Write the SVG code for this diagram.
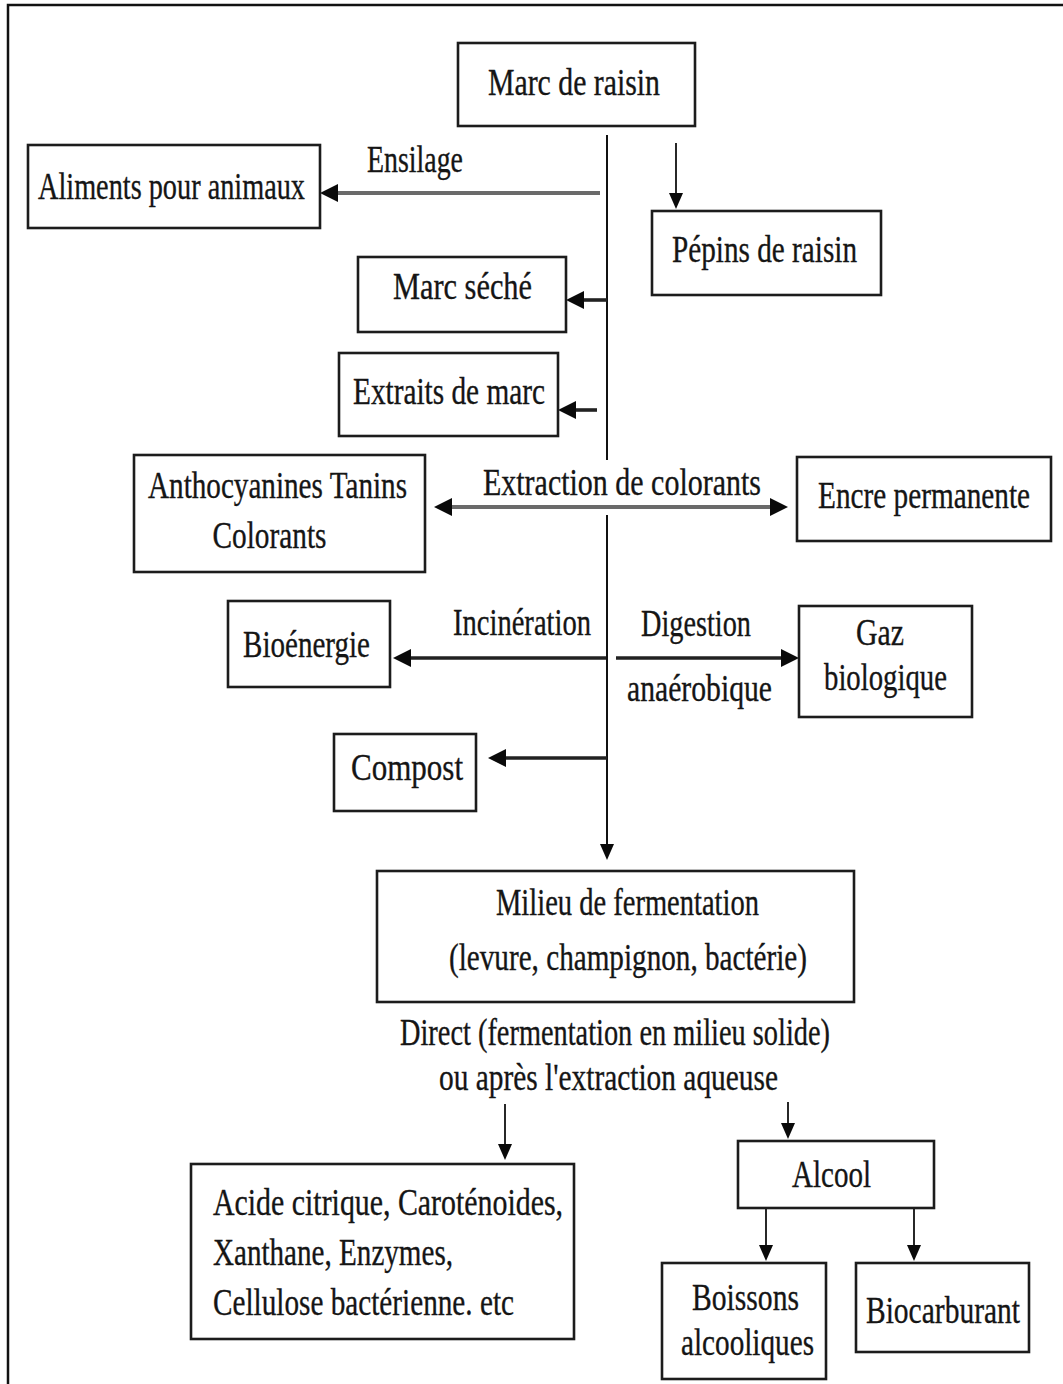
<svg xmlns="http://www.w3.org/2000/svg" width="1063" height="1384" viewBox="0 0 1063 1384">
  <style>
    .box { fill: #ffffff; stroke: #1c1c1c; stroke-width: 2.6; }
    .t { font-family: "Liberation Serif", "Times New Roman", serif; font-size: 38px; fill: #151515; stroke: #151515; stroke-width: 0.35; text-anchor: middle; }
    .tl { text-anchor: start; }
    .trunk { stroke: #111; stroke-width: 2; fill: none; }
    .thin { stroke: #111; stroke-width: 1.8; fill: none; }
    .thick { stroke: #222; stroke-width: 3.6; fill: none; }
    .grey { stroke: #6a6a6a; stroke-width: 4; fill: none; }
  </style>
  <defs>
    <marker id="headBig" markerUnits="userSpaceOnUse" markerWidth="20" markerHeight="20" refX="6" refY="10" orient="auto-start-reverse" viewBox="0 0 20 20">
      <path d="M0,1 L18,10 L0,19 Z" fill="#0a0a0a"/>
    </marker>
    <marker id="headSmall" markerUnits="userSpaceOnUse" markerWidth="18" markerHeight="16" refX="6" refY="8" orient="auto" viewBox="0 0 18 16">
      <path d="M0,1 L16,8 L0,15 Z" fill="#0a0a0a"/>
    </marker>
  </defs>

  <rect width="1063" height="1384" fill="#ffffff"/>
  <!-- outer frame, open to the right and bottom edges -->
  <rect x="8" y="5" width="1080" height="1420" fill="none" stroke="#111" stroke-width="2.5"/>

  <g id="connectors">
    <!-- main trunk, interrupted behind the colourant label -->
    <line class="trunk" x1="607" y1="135" x2="607" y2="460"/>
    <line class="trunk" x1="607" y1="515" x2="607" y2="850" marker-end="url(#headSmall)"/>
    <!-- seeds -->
    <line class="thin" x1="676" y1="143" x2="676" y2="199" marker-end="url(#headSmall)"/>
    <!-- silage -->
    <line class="grey" x1="600" y1="193" x2="332" y2="193" marker-end="url(#headBig)"/>
    <!-- dried pomace -->
    <line class="thick" x1="607" y1="300" x2="578" y2="300" marker-end="url(#headBig)"/>
    <!-- pomace extracts -->
    <line class="thick" x1="597" y1="410" x2="570" y2="410" marker-end="url(#headBig)"/>
    <!-- colourant extraction (two-way) -->
    <line class="grey" x1="446" y1="507" x2="776" y2="507" marker-start="url(#headBig)" marker-end="url(#headBig)"/>
    <!-- incineration -->
    <line class="thick" x1="606" y1="658" x2="405" y2="658" marker-end="url(#headBig)"/>
    <!-- anaerobic digestion -->
    <line class="thick" x1="616" y1="658" x2="787" y2="658" marker-end="url(#headBig)"/>
    <!-- compost -->
    <line class="thick" x1="607" y1="758" x2="500" y2="758" marker-end="url(#headBig)"/>
    <!-- fermentation outputs -->
    <line class="thin" x1="505" y1="1104" x2="505" y2="1150" marker-end="url(#headSmall)"/>
    <line class="thin" x1="788" y1="1102" x2="788" y2="1129" marker-end="url(#headSmall)"/>
    <line class="thin" x1="766" y1="1208" x2="766" y2="1251" marker-end="url(#headSmall)"/>
    <line class="thin" x1="914" y1="1208" x2="914" y2="1251" marker-end="url(#headSmall)"/>
  </g>

  <g id="labels">
    <text class="t" x="415" y="172" textLength="96" lengthAdjust="spacingAndGlyphs">Ensilage</text>
    <text class="t" x="622" y="495" textLength="278" lengthAdjust="spacingAndGlyphs">Extraction de colorants</text>
    <text class="t" x="522" y="635" textLength="138" lengthAdjust="spacingAndGlyphs">Incinération</text>
    <text class="t" x="696" y="636" textLength="110" lengthAdjust="spacingAndGlyphs">Digestion</text>
    <text class="t" x="699.5" y="701" textLength="145" lengthAdjust="spacingAndGlyphs">anaérobique</text>
    <text class="t" x="615" y="1045" textLength="430" lengthAdjust="spacingAndGlyphs">Direct (fermentation en milieu solide)</text>
    <text class="t" x="608.5" y="1090" textLength="339" lengthAdjust="spacingAndGlyphs">ou après l'extraction aqueuse</text>
  </g>

  <g id="marc-de-raisin">
    <rect class="box" x="458" y="43" width="237" height="83"/>
    <text class="t" x="574" y="95" textLength="172" lengthAdjust="spacingAndGlyphs">Marc de raisin</text>
  </g>
  <g id="aliments-animaux">
    <rect class="box" x="28" y="145" width="292" height="83"/>
    <text class="t" x="171.5" y="199" textLength="267" lengthAdjust="spacingAndGlyphs">Aliments pour animaux</text>
  </g>
  <g id="pepins-raisin">
    <rect class="box" x="652" y="211" width="229" height="84"/>
    <text class="t" x="764.5" y="262" textLength="185" lengthAdjust="spacingAndGlyphs">Pépins de raisin</text>
  </g>
  <g id="marc-seche">
    <rect class="box" x="358" y="257" width="208" height="75"/>
    <text class="t" x="462.5" y="299" textLength="139" lengthAdjust="spacingAndGlyphs">Marc séché</text>
  </g>
  <g id="extraits-marc">
    <rect class="box" x="339" y="353" width="219" height="83"/>
    <text class="t" x="449" y="404" textLength="192" lengthAdjust="spacingAndGlyphs">Extraits de marc</text>
  </g>
  <g id="anthocyanines">
    <rect class="box" x="134" y="455" width="291" height="117"/>
    <text class="t" x="277.5" y="498" textLength="259" lengthAdjust="spacingAndGlyphs">Anthocyanines Tanins</text>
    <text class="t" x="269.5" y="548" textLength="114" lengthAdjust="spacingAndGlyphs">Colorants</text>
  </g>
  <g id="encre-permanente">
    <rect class="box" x="797" y="457" width="254" height="84"/>
    <text class="t" transform="translate(924 508) scale(0.77 1)" x="0" y="0">Encre permanente</text>
  </g>
  <g id="bioenergie">
    <rect class="box" x="228" y="601" width="162" height="86"/>
    <text class="t" x="306.5" y="657" textLength="127" lengthAdjust="spacingAndGlyphs">Bioénergie</text>
  </g>
  <g id="gaz-biologique">
    <rect class="box" x="799" y="606" width="173" height="111"/>
    <text class="t" x="880" y="645" textLength="48" lengthAdjust="spacingAndGlyphs">Gaz</text>
    <text class="t" x="885.5" y="690" textLength="123" lengthAdjust="spacingAndGlyphs">biologique</text>
  </g>
  <g id="compost">
    <rect class="box" x="334" y="734" width="142" height="77"/>
    <text class="t" x="407" y="780" textLength="112" lengthAdjust="spacingAndGlyphs">Compost</text>
  </g>
  <g id="milieu-fermentation">
    <rect class="box" x="377" y="871" width="477" height="131"/>
    <text class="t" x="627.5" y="915" textLength="263" lengthAdjust="spacingAndGlyphs">Milieu de fermentation</text>
    <text class="t" x="628" y="970" textLength="358" lengthAdjust="spacingAndGlyphs">(levure, champignon, bactérie)</text>
  </g>
  <g id="produits-fermentation">
    <rect class="box" x="191" y="1164" width="383" height="175"/>
    <text class="t tl" x="213" y="1215" textLength="350" lengthAdjust="spacingAndGlyphs">Acide citrique, Caroténoides,</text>
    <text class="t tl" x="213" y="1265" textLength="240" lengthAdjust="spacingAndGlyphs">Xanthane, Enzymes,</text>
    <text class="t tl" x="213" y="1315" textLength="301" lengthAdjust="spacingAndGlyphs">Cellulose bactérienne. etc</text>
  </g>
  <g id="alcool">
    <rect class="box" x="738" y="1141" width="196" height="67"/>
    <text class="t" x="831.5" y="1187" textLength="79" lengthAdjust="spacingAndGlyphs">Alcool</text>
  </g>
  <g id="boissons-alcooliques">
    <rect class="box" x="662" y="1263" width="164" height="116"/>
    <text class="t" x="745.5" y="1310" textLength="107" lengthAdjust="spacingAndGlyphs">Boissons</text>
    <text class="t" x="747.5" y="1355" textLength="133" lengthAdjust="spacingAndGlyphs">alcooliques</text>
  </g>
  <g id="biocarburant">
    <rect class="box" x="856" y="1263" width="173" height="89"/>
    <text class="t" x="943" y="1323" textLength="154" lengthAdjust="spacingAndGlyphs">Biocarburant</text>
  </g>
</svg>
